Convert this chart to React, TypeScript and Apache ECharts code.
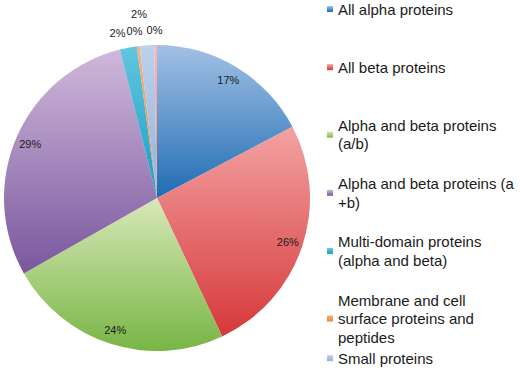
import React, { useEffect, useRef } from "react";
import * as echarts from "echarts";

const categories = [
  "All alpha proteins",
  "All beta proteins",
  "Alpha and beta proteins (a/b)",
  "Alpha and beta proteins (a+b)",
  "Multi-domain proteins (alpha and beta)",
  "Membrane and cell surface proteins and peptides",
  "Small proteins",
  "Coiled coil proteins",
];
const values = [17.3, 25.7, 23.8, 29.3, 1.8, 0.3, 1.5, 0.3];
const legendNames = categories.slice(0, 7);
const legendLabels = [
  "All alpha proteins",
  "All beta proteins",
  "Alpha and beta proteins\n(a/b)",
  "Alpha and beta proteins (a\n+b)",
  "Multi-domain proteins\n(alpha and beta)",
  "Membrane and cell\nsurface proteins and\npeptides",
  "Small proteins",
];
const topColors = ["#a3c1e5", "#f3a2a2", "#d8e8b8", "#cfb8da", "#62c6df", "#fab27a", "#bcd2ec", "#f6baba"];
const bottomColors = ["#1f6cb4", "#d6383a", "#78b545", "#7a579e", "#1b9cc4", "#f08636", "#92b2da", "#ec8a8a"];

const FONT = "'Liberation Sans', Arial, sans-serif";

export default function App() {
  const ref = useRef<HTMLDivElement>(null);
  useEffect(() => {
    if (!ref.current) return;
    const chart = echarts.init(ref.current, undefined, { renderer: "svg" });
    const center = [157, 198];
    const lh = 18.5;
    const legends = legendNames.map((name, i) => {
      const n = legendLabels[i].split("\n").length;
      const firstY = 9 + i * 58.2;
      return {
        orient: "vertical",
        left: 327,
        top: firstY - (n * lh) / 2,
        padding: 0,
        itemWidth: 6,
        itemHeight: 6,
        icon: "rect",
        data: [name],
        formatter: () => legendLabels[i],
        textStyle: {
          fontFamily: FONT,
          fontSize: 15,
          color: "#1a1a1a",
          lineHeight: lh,
          padding: [(n - 1) * lh, 0, 0, 0],
        },
        itemStyle: { borderWidth: 0 },
      };
    });
    const fmt = (p: any) => Math.round(p.percent) + "%";
    // small nudges for the crowded outside labels near 12 o'clock
    const nudges: Record<number, { dx: number; dy: number }> = {
      4: { dx: 5, dy: 0 },
      5: { dx: 11, dy: 0 },
      6: { dx: 6, dy: -16 },
      7: { dx: 12, dy: 0 },
    };
    chart.setOption({
      animation: false,
      legend: legends,
      series: [
        {
          type: "pie",
          center,
          radius: 153,
          startAngle: 90,
          clockwise: true,
          label: { show: false },
          labelLine: { show: false },
          emphasis: { disabled: true },
          itemStyle: { borderWidth: 0 },
          data: categories.map((name, i) => ({
            name,
            value: values[i],
            itemStyle: {
              color: new echarts.graphic.LinearGradient(0, 0, 0, 1, [
                { offset: 0, color: topColors[i] },
                { offset: 1, color: bottomColors[i] },
              ]),
            },
          })),
        },
        {
          type: "pie",
          center,
          radius: [117, 153],
          startAngle: 90,
          clockwise: true,
          silent: true,
          avoidLabelOverlap: false,
          emphasis: { disabled: true },
          itemStyle: { color: "rgba(0,0,0,0)", borderWidth: 0 },
          label: {
            show: true,
            position: "inside",
            formatter: fmt,
            fontFamily: FONT,
            fontSize: 11,
            color: "#1a1a1a",
          },
          labelLine: { show: false, length: 15, length2: 0 },
          labelLayout: (p: any) => nudges[p.dataIndex] || {},
          data: categories.map((name, i) => ({
            name,
            value: values[i],
            label: values[i] < 5 ? { position: "outside" } : undefined,
          })),
        },
      ],
    });
    return () => chart.dispose();
  }, []);
  return (
    <div
      ref={ref}
      style={{ position: "fixed", left: 0, top: 0, width: 520, height: 370, background: "#fff" }}
    />
  );
}
